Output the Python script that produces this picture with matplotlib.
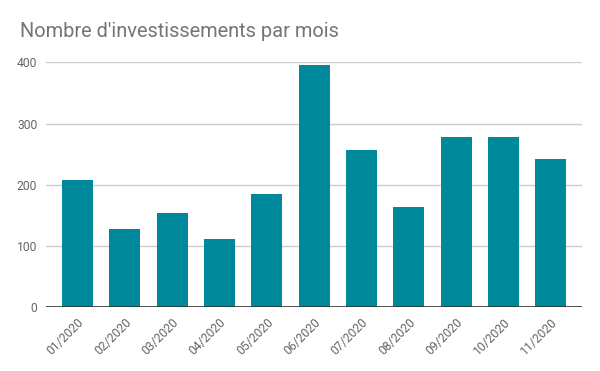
import matplotlib.pyplot as plt

plt.rcParams['font.family'] = ['Roboto', 'DejaVu Sans']

# Investissements par mois
months = ['01/2020', '02/2020', '03/2020', '04/2020', '05/2020', '06/2020',
          '07/2020', '08/2020', '09/2020', '10/2020', '11/2020']
counts = [207, 128, 154, 112, 185, 395, 257, 164, 278, 278, 242]
y_ticks = [0, 100, 200, 300, 400]

fig = plt.figure(figsize=(6, 3.71), dpi=100)
ax = fig.add_axes([0.076, 0.172, 0.894, 0.66])

ax.bar(range(len(months)), counts, width=0.655, color='#00889b', zorder=3)

ax.set_xlim(-0.67, len(months) - 1 + 0.66)
ax.set_ylim(0, 400)
ax.set_yticks(y_ticks)
ax.set_xticks(range(len(months)))
ax.set_xticklabels(months, rotation=45, ha='right', rotation_mode='anchor')

ax.grid(axis='y', color='#cccccc', linewidth=1, zorder=0)
ax.axhline(0, color='#333333', linewidth=1.2, zorder=4)
for side in ['top', 'right', 'left', 'bottom']:
    ax.spines[side].set_visible(False)
ax.tick_params(axis='both', length=0, labelsize=8.7, labelcolor='#666666')
ax.tick_params(axis='x', pad=6)
ax.tick_params(axis='y', pad=6)

fig.text(0.033, 0.915, "Nombre d'investissements par mois", fontsize=14.4,
         color='#757575', va='center', ha='left')

plt.savefig('out.png')
